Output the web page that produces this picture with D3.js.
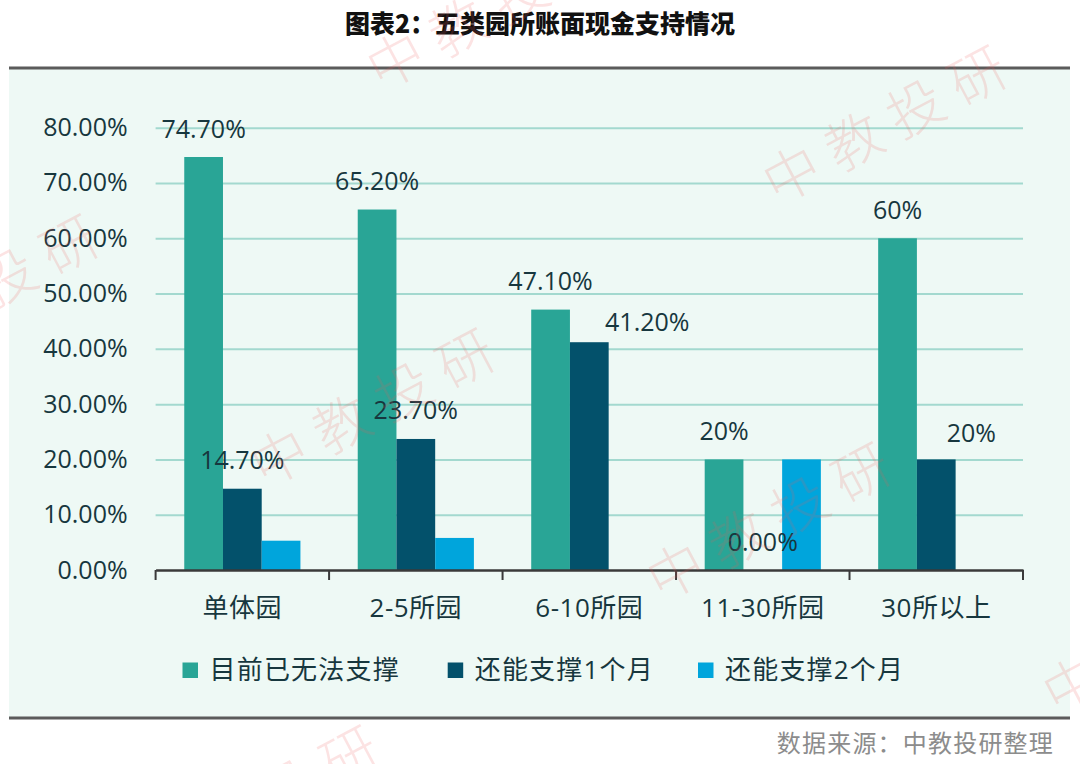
<!DOCTYPE html>
<html>
<head>
<meta charset="utf-8">
<script src="https://cdn.jsdelivr.net/npm/d3@7"></script>
<style>
  html, body { margin: 0; padding: 0; background: #ffffff; }
  svg { display: block; }
</style>
</head>
<body>
<svg id="chart" width="1080" height="764"></svg>
<script>
// ---------- data ----------
const categories = ["单体园", "2-5所园", "6-10所园", "11-30所园", "30所以上"];
const seriesNames = ["目前已无法支撑", "还能支撑1个月", "还能支撑2个月"];
const valuesNow    = [0.747, 0.652, 0.471, 0.20, 0.60];
const values1Month = [0.147, 0.237, 0.412, 0.00, 0.20];
const values2Month = [0.053, 0.058, 0.00, 0.20, 0.00];
const labelsNow    = ["74.70%", "65.20%", "47.10%", "20%", "60%"];
const labels1Month = ["14.70%", "23.70%", "41.20%", "0.00%", "20%"];
const yTicks = [0, 0.1, 0.2, 0.3, 0.4, 0.5, 0.6, 0.7, 0.8];
const titleText = "图表2：五类园所账面现金支持情况";
const sourceText = "数据来源：中教投研整理";
const watermarkText = "中教投研";

// ---------- styles ----------
const colors = ["#29a596", "#03516b", "#00a5dc"];
const textColor = "#17373e";
const numFont = "'Open Sans', 'Noto Sans CJK SC', sans-serif";
const cjkFont = "'Open Sans', 'Noto Sans CJK SC', sans-serif";

const svg = d3.select("#chart");

// panel
svg.append("rect").attr("x", 9).attr("y", 68).attr("width", 1061).attr("height", 650)
  .attr("fill", "#eef9f5");
svg.append("line").attr("x1", 9).attr("x2", 1070).attr("y1", 68).attr("y2", 68)
  .attr("stroke", "#5b5b5b").attr("stroke-width", 3);
svg.append("line").attr("x1", 9).attr("x2", 1070).attr("y1", 718).attr("y2", 718)
  .attr("stroke", "#5b5b5b").attr("stroke-width", 3);

// title
svg.append("text").attr("x", 540).attr("y", 33).attr("text-anchor", "middle")
  .attr("font-family", "'Noto Sans CJK SC', sans-serif").attr("font-weight", 900)
  .attr("font-size", 25).attr("fill", "#111").text(titleText);

// scales
const x0 = d3.scaleBand().domain(categories).range([155.6, 1023]).paddingInner(0).paddingOuter(0);
const x1 = d3.scaleBand().domain(seriesNames).range([0, x0.bandwidth()]).paddingInner(0).paddingOuter(0.74);
const y = d3.scaleLinear().domain([0, 0.8]).range([570, 127.7]);

// gridlines + y axis
const yAxis = d3.axisLeft(y).tickValues(yTicks).tickFormat(d3.format(".2%"))
  .tickSize(-(1023 - 155.6)).tickPadding(28);
const gy = svg.append("g").attr("transform", "translate(155.6,0)").call(yAxis);
gy.select(".domain").remove();
gy.selectAll(".tick line").attr("stroke", "#a3d9cf").attr("stroke-width", 2)
  .filter(d => d === 0).remove();
gy.selectAll(".tick text").attr("font-family", numFont).attr("font-size", 25)
  .attr("fill", textColor).attr("x", -28);

// bars
const seriesValues = [valuesNow, values1Month, values2Month];
const barData = [];
categories.forEach((c, i) => {
  seriesNames.forEach((s, j) => {
    barData.push({ cat: c, series: s, j: j, v: seriesValues[j][i] });
  });
});
svg.append("g").selectAll("rect").data(barData.filter(d => d.v > 0)).join("rect")
  .attr("x", d => x0(d.cat) + x1(d.series))
  .attr("width", x1.bandwidth())
  .attr("y", d => y(d.v))
  .attr("height", d => y(0) - y(d.v))
  .attr("fill", d => colors[d.j]);

// x axis
const xAxis = d3.axisBottom(x0).tickSize(0).tickPadding(29);
const gx = svg.append("g").attr("transform", `translate(0,${y(0)})`).call(xAxis);
gx.select(".domain").attr("stroke", "#3a3a3a").attr("stroke-width", 2.5);
gx.selectAll(".tick text").attr("font-family", cjkFont).attr("font-size", 26)
  .attr("letter-spacing", 0.5).attr("fill", textColor).attr("dy", "0.71em");
// boundary ticks
const boundaries = categories.map(c => x0(c)).concat([x0(categories[categories.length - 1]) + x0.bandwidth()]);
svg.append("g").selectAll("line").data(boundaries).join("line")
  .attr("x1", d => d).attr("x2", d => d)
  .attr("y1", y(0)).attr("y2", y(0) + 10)
  .attr("stroke", "#3a3a3a").attr("stroke-width", 2);

// data labels
const labelOffsets = {
  "6-10所园|还能支撑1个月": [58, 8],
  "30所以上|还能支撑1个月": [35, 2]
};
const labelData = [];
categories.forEach((c, i) => {
  labelData.push({ cat: c, series: seriesNames[0], v: valuesNow[i], t: labelsNow[i] });
  labelData.push({ cat: c, series: seriesNames[1], v: values1Month[i], t: labels1Month[i] });
});
svg.append("g").selectAll("text").data(labelData).join("text")
  .attr("x", d => {
    const off = labelOffsets[d.cat + "|" + d.series] || [0, 0];
    return x0(d.cat) + x1(d.series) + x1.bandwidth() / 2 + off[0];
  })
  .attr("y", d => {
    const off = labelOffsets[d.cat + "|" + d.series] || [0, 0];
    return y(d.v) - 28.5 + off[1];
  })
  .attr("dy", "0.36em")
  .attr("text-anchor", "middle")
  .attr("font-family", numFont).attr("font-size", 25).attr("fill", textColor)
  .text(d => d.t);

// legend
const legendX = [182.5, 447.7, 698];
const lg = svg.append("g").selectAll("g").data(seriesNames).join("g")
  .attr("transform", (d, i) => `translate(${legendX[i]},670)`);
lg.append("rect").attr("x", 0).attr("y", -7.5).attr("width", 15.5).attr("height", 15.5)
  .attr("fill", (d, i) => colors[i]);
lg.append("text").attr("x", 27).attr("dy", "0.36em")
  .attr("font-family", cjkFont).attr("font-size", 26).attr("letter-spacing", 1.2)
  .attr("fill", textColor).text(d => d);

// source
svg.append("text").attr("x", 1054).attr("y", 752).attr("text-anchor", "end")
  .attr("font-family", "'Noto Sans CJK SC', sans-serif").attr("font-size", 24)
  .attr("letter-spacing", 1.2).attr("fill", "#8c8c8c").text(sourceText);

// watermarks (repeating diagonal pattern)
const wmCenters = [];
const origin = [379, 405], a = [396, 114], b = [-116, 397];
for (let i = -2; i <= 2; i++) {
  for (let k = -2; k <= 2; k++) {
    const cx = origin[0] + i * a[0] + k * b[0];
    const cy = origin[1] + i * a[1] + k * b[1];
    if (cx > -120 && cx < 1240 && cy > -40 && cy < 880) wmCenters.push([cx, cy]);
  }
}
svg.append("g").attr("pointer-events", "none").selectAll("text").data(wmCenters).join("text")
  .attr("transform", d => `translate(${d[0]},${d[1]}) rotate(-28)`)
  .attr("text-anchor", "middle").attr("dy", "0.36em")
  .attr("font-family", "'Noto Sans CJK SC', sans-serif").attr("font-weight", 300)
  .attr("font-size", 56).attr("letter-spacing", 14)
  .attr("fill", "rgba(235,90,90,0.17)")
  .text(watermarkText);
</script>
</body>
</html>
